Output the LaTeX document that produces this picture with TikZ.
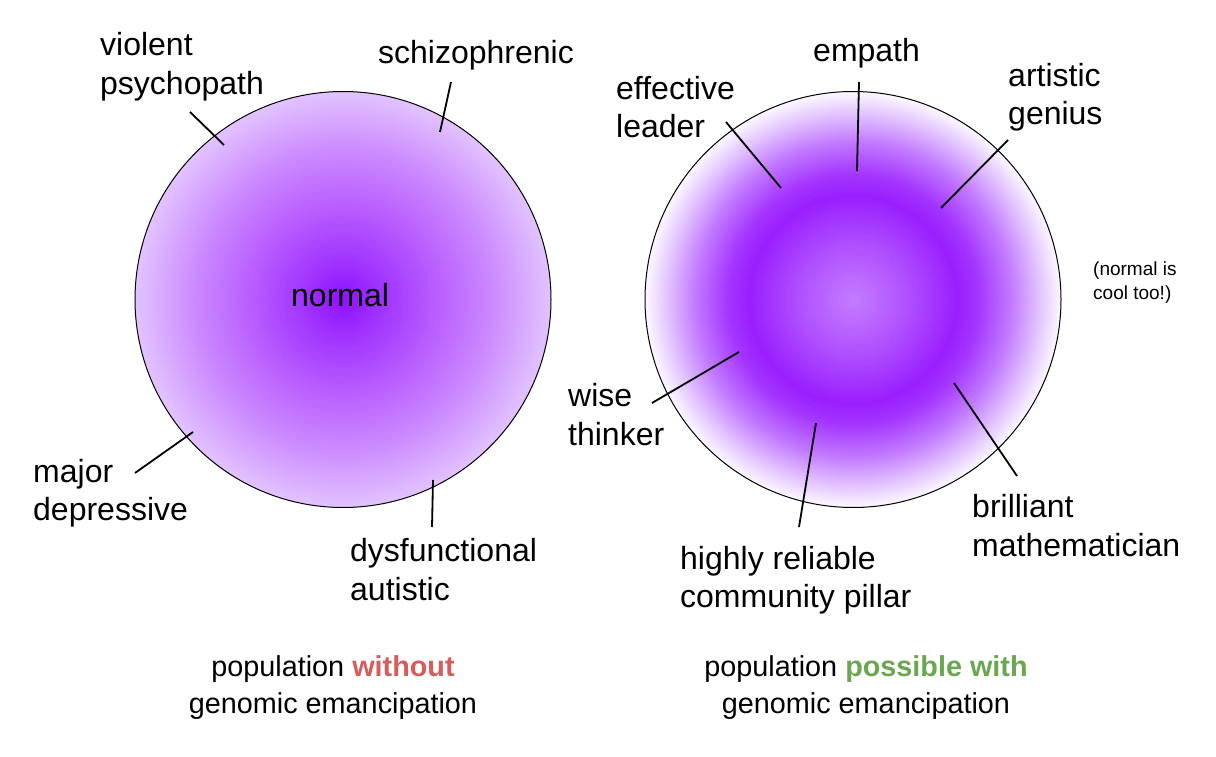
\documentclass[tikz,border=0pt]{standalone}
\usepackage{fontspec}
\setmainfont{Liberation Sans}
\definecolor{lcA}{HTML}{9010FF}
\definecolor{lcB}{HTML}{A236FF}
\definecolor{lcC}{HTML}{B85CFF}
\definecolor{lcD}{HTML}{CC8AFF}
\definecolor{lcE}{HTML}{E2C3FF}
\definecolor{rcA}{HTML}{C47CFF}
\definecolor{rcB}{HTML}{B050FF}
\definecolor{rcC}{HTML}{9A1EFF}
\definecolor{rcD}{HTML}{A434FF}
\definecolor{rcE}{HTML}{C27AFF}
\definecolor{rcF}{HTML}{E4C6FF}
\definecolor{rcG}{HTML}{FCF8FF}
\definecolor{badred}{HTML}{D95B5B}
\definecolor{goodgreen}{HTML}{6AA84F}
\pgfdeclareradialshading{leftshade}{\pgfpoint{0bp}{0bp}}{color(0bp)=(lcA); color(5bp)=(lcB); color(11bp)=(lcC); color(18bp)=(lcD); color(25bp)=(lcE); color(50bp)=(lcE)}
\pgfdeclareradialshading{rightshade}{\pgfpoint{0bp}{0bp}}{color(0bp)=(rcA); color(6.5bp)=(rcB); color(12.5bp)=(rcC); color(15bp)=(rcD); color(19bp)=(rcE); color(22.5bp)=(rcF); color(25bp)=(rcG); color(50bp)=(rcG)}
\begin{document}
\begin{tikzpicture}[x=1pt,y=-1pt,
  lbl/.style={anchor=base west, inner sep=0pt, align=left, font=\fontsize{32}{38.5}\selectfont},
  smalllbl/.style={anchor=base west, inner sep=0pt, align=left, font=\fontsize{19}{24}\selectfont},
  captiontext/.style={anchor=base, inner sep=0pt, align=center, font=\fontsize{28.8}{37}\selectfont},
  popcircle/.style={circle, draw=black, line width=1pt, minimum size=416pt, inner sep=0pt},
  conn/.style={draw=black, line width=1.8pt}]
\useasboundingbox (0,0) rectangle (1216,757);
\fill[white] (0,0) rectangle (1216,757);

% circles
\node[popcircle, shading=leftshade] (lpop) at (343,299.5) {};
\node[popcircle, shading=rightshade] (rpop) at (853,299.5) {};

% left labels (multi-line nodes anchored at the baseline of their last line)
\node[lbl] (normal) at (291,306) {normal};
\node[lbl] (vp) at (100,94.5) {violent\\psychopath};
\node[lbl] (sch) at (378,64) {schizophrenic};
\node[lbl] (md) at (33,520.5) {major\\depressive};
\node[lbl] (da) at (350,600) {dysfunctional\\autistic};

% right labels
\node[lbl] (el) at (616,138) {effective\\leader};
\node[lbl] (em) at (813,62) {empath};
\node[lbl] (ag) at (1008,125) {artistic\\genius};
\node[smalllbl] (nc) at (1093,299) {(normal is\\cool too!)};
\node[lbl] (wt) at (568,445) {wise\\thinker};
\node[lbl] (hr) at (680,607.5) {highly reliable\\community pillar};
\node[lbl] (bm) at (972,556) {brilliant\\mathematician};

% captions
\node[captiontext] (lcap) at (333,713.5) {population \textcolor{badred}{\textbf{without}}\\genomic emancipation};
\node[captiontext] (rcap) at (866,713.5) {population \textcolor{goodgreen}{\textbf{possible with}}\\genomic emancipation};

% connector coordinates
\coordinate (vpA) at (190,112); \coordinate (vpB) at (224,145);
\coordinate (schA) at (451,82); \coordinate (schB) at (440,132);
\coordinate (mdA) at (135,473); \coordinate (mdB) at (193,432);
\coordinate (daA) at (432,527); \coordinate (daB) at (433,480);
\coordinate (elA) at (726,122); \coordinate (elB) at (781,188);
\coordinate (emA) at (859,82); \coordinate (emB) at (857,171);
\coordinate (agA) at (1008,140); \coordinate (agB) at (941,208);
\coordinate (wtA) at (652,403); \coordinate (wtB) at (739,352);
\coordinate (hrA) at (799,527); \coordinate (hrB) at (816,423);
\coordinate (bmA) at (1017,476); \coordinate (bmB) at (954,383);

\foreach \c in {vp,sch,md,da,el,em,ag,wt,hr,bm}{
  \draw[conn] (\c A) -- (\c B);
}
\end{tikzpicture}
\end{document}
